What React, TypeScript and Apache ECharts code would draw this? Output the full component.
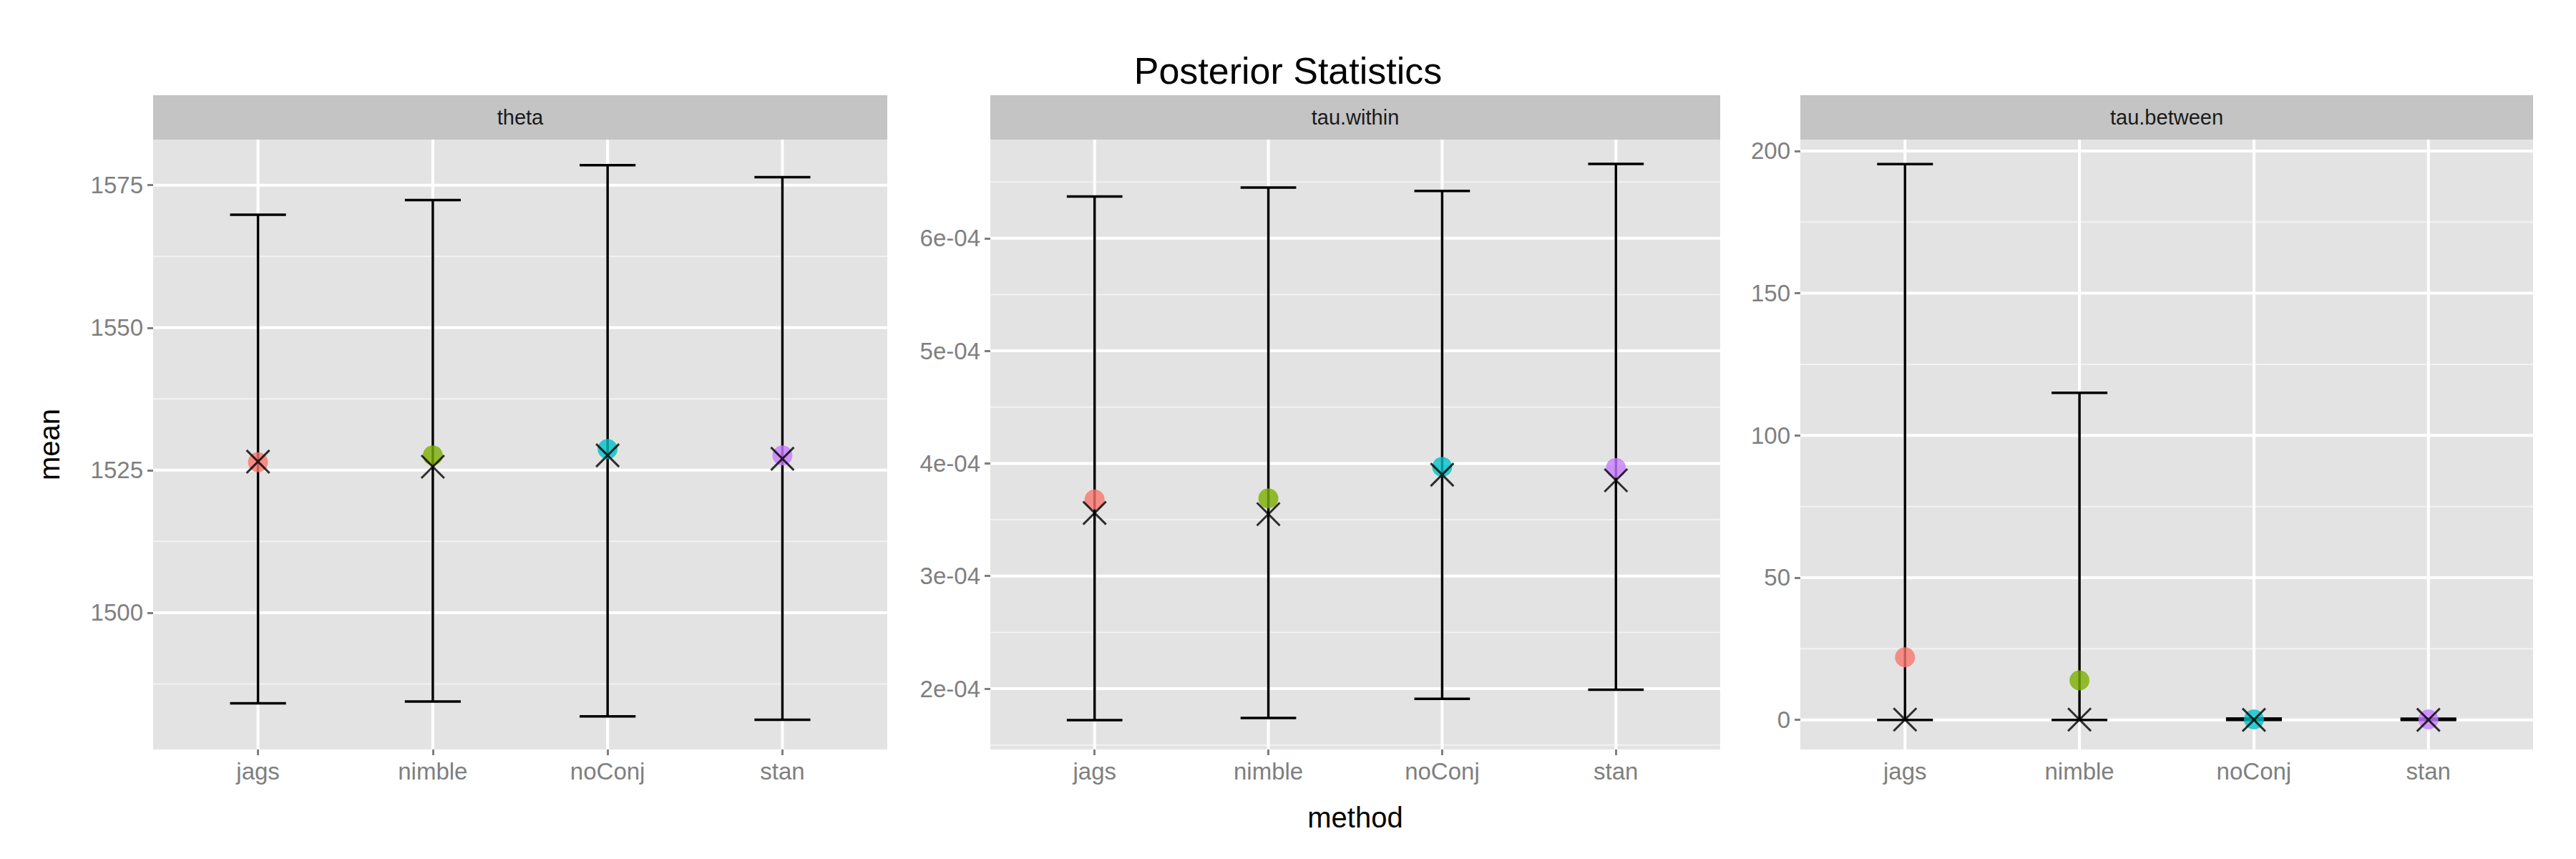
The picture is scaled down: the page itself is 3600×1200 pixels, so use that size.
import React, { useEffect, useRef } from 'react';
import * as echarts from 'echarts';

const methods = ['jags', 'nimble', 'noConj', 'stan'];
const colors = ['#F8766D', '#7CAE00', '#00BFC4', '#C77CFF'];
const panels = ['theta', 'tau.within', 'tau.between'];

// per panel: lower, upper, mean, median for each method
const thetaLower = [1484.1, 1484.4, 1481.8, 1481.2];
const thetaUpper = [1569.8, 1572.4, 1578.5, 1576.4];
const thetaMean = [1526.4, 1527.6, 1528.7, 1527.6];
const thetaMedian = [1526.5, 1525.6, 1527.6, 1527.0];

const withinLower = [1.72e-4, 1.74e-4, 1.91e-4, 1.99e-4];
const withinUpper = [6.37e-4, 6.45e-4, 6.42e-4, 6.66e-4];
const withinMean = [3.68e-4, 3.69e-4, 3.97e-4, 3.96e-4];
const withinMedian = [3.56e-4, 3.55e-4, 3.9e-4, 3.85e-4];

const betweenLower = [0, 0, 0, 0];
const betweenUpper = [195.4, 115, 0.5, 0.4];
const betweenMean = [22, 13.9, 0.2, 0.2];
const betweenMedian = [0.1, 0.1, 0, 0];

const thetaTicks = [1500, 1525, 1550, 1575];
const withinTicks = [2e-4, 3e-4, 4e-4, 5e-4, 6e-4];
const betweenTicks = [0, 50, 100, 150, 200];

const yRanges = [
  [1476, 1583],
  [1.46e-4, 6.876e-4],
  [-10.4, 204],
];

const grids = [
  { left: 214, width: 1026 },
  { left: 1384, width: 1020 },
  { left: 2516, width: 1024 },
];
const gridTop = 195;
const gridHeight = 852;

const App: React.FC = () => {
  const ref = useRef<HTMLDivElement>(null);

  useEffect(() => {
    document.body.style.margin = '0';
    if (!ref.current) return;
    const chart = echarts.init(ref.current, null, { renderer: 'svg' });

    const stats = [
      [thetaLower, thetaUpper, thetaMean, thetaMedian],
      [withinLower, withinUpper, withinMean, withinMedian],
      [betweenLower, betweenUpper, betweenMean, betweenMedian],
    ];
    const ticks = [thetaTicks, withinTicks, betweenTicks];
    const fmt = [
      (v: number) => String(v),
      (v: number) => `${Math.round(v * 1e4)}e-04`,
      (v: number) => String(v),
    ];

    const series: any[] = [];
    panels.forEach((_, p) => {
      const t = ticks[p];
      const minor: number[] = [];
      for (let i = 0; i < t.length - 1; i++) minor.push((t[i] + t[i + 1]) / 2);
      const step = t[1] - t[0];
      minor.unshift(t[0] - step / 2);
      minor.push(t[t.length - 1] + step / 2);
      // background grid lines
      series.push({
        type: 'custom',
        xAxisIndex: p,
        yAxisIndex: p,
        silent: true,
        z: 1,
        data: [0],
        renderItem: (params: any, api: any) => {
          const cs = params.coordSys;
          const children: any[] = [];
          minor.forEach((v) => {
            const y = api.coord([1, v])[1];
            if (y < cs.y || y > cs.y + cs.height) return;
            children.push({ type: 'line', shape: { x1: cs.x, y1: y, x2: cs.x + cs.width, y2: y }, style: { stroke: '#F2F2F2', lineWidth: 2 } });
          });
          t.forEach((v) => {
            const y = api.coord([1, v])[1];
            children.push({ type: 'line', shape: { x1: cs.x, y1: y, x2: cs.x + cs.width, y2: y }, style: { stroke: '#FFFFFF', lineWidth: 4 } });
          });
          methods.forEach((_m, i) => {
            const x = api.coord([i + 1, 0])[0];
            children.push({ type: 'line', shape: { x1: x, y1: cs.y, x2: x, y2: cs.y + cs.height }, style: { stroke: '#FFFFFF', lineWidth: 4 } });
          });
          return { type: 'group', children };
        },
      });
      const [lo, up, mean, med] = stats[p];
      series.push({
        type: 'custom',
        xAxisIndex: p,
        yAxisIndex: p,
        z: 2,
        data: methods.map((_m, i) => [i + 1, lo[i], up[i]]),
        renderItem: (_params: any, api: any) => {
          const x = api.value(0);
          const a = api.coord([x, api.value(1)]);
          const b = api.coord([x, api.value(2)]);
          const w = api.coord([x + 0.16, 0])[0] - a[0];
          const st = { stroke: '#000', lineWidth: 3.5 };
          return {
            type: 'group',
            children: [
              { type: 'line', shape: { x1: a[0], y1: a[1], x2: b[0], y2: b[1] }, style: st },
              { type: 'line', shape: { x1: a[0] - w, y1: a[1], x2: a[0] + w, y2: a[1] }, style: st },
              { type: 'line', shape: { x1: b[0] - w, y1: b[1], x2: b[0] + w, y2: b[1] }, style: st },
            ],
          };
        },
      });
      series.push({
        type: 'scatter',
        xAxisIndex: p,
        yAxisIndex: p,
        z: 3,
        symbolSize: 28,
        data: methods.map((_m, i) => ({ value: [i + 1, mean[i]], itemStyle: { color: colors[i] } })),
      });
      series.push({
        type: 'scatter',
        xAxisIndex: p,
        yAxisIndex: p,
        z: 4,
        symbol: 'path://M0,0L10,10M10,0L0,10',
        symbolSize: 32,
        itemStyle: { color: 'none', borderColor: '#000', borderWidth: 3 },
        data: methods.map((_m, i) => [i + 1, med[i]]),
      });
    });

    const option: any = {
      animation: false,
      backgroundColor: '#fff',
      title: {
        text: 'Posterior Statistics',
        left: 'center',
        top: 68,
        textStyle: { fontFamily: 'Liberation Sans, Arial', fontSize: 52, fontWeight: 'normal', color: '#000' },
      },
      grid: grids.map((g) => ({
        left: g.left,
        width: g.width,
        top: gridTop,
        height: gridHeight,
        show: true,
        backgroundColor: '#E3E3E3',
        borderWidth: 0,
      })),
      xAxis: grids.map((_g, p) => ({
        type: 'value',
        gridIndex: p,
        min: 0.4,
        max: 4.6,
        splitLine: { show: false },
        axisLine: { show: false },
        axisTick: { show: true, customValues: [1, 2, 3, 4], length: 8, lineStyle: { color: '#7F7F7F', width: 3 } },
        axisLabel: {
          customValues: [1, 2, 3, 4],
          formatter: (v: number) => methods[Math.round(v) - 1],
          fontFamily: 'Liberation Sans, Arial',
          fontSize: 33,
          color: '#7F7F7F',
          margin: 14,
        },
        name: p === 1 ? 'method' : '',
        nameLocation: 'middle',
        nameGap: 75,
        nameTextStyle: { fontFamily: 'Liberation Sans, Arial', fontSize: 40, color: '#000' },
      })),
      yAxis: grids.map((_g, p) => ({
        type: 'value',
        gridIndex: p,
        min: yRanges[p][0],
        max: yRanges[p][1],
        splitLine: { show: false },
        axisLine: { show: false },
        axisTick: { show: true, customValues: ticks[p], length: 8, lineStyle: { color: '#7F7F7F', width: 3 } },
        axisLabel: {
          customValues: ticks[p],
          formatter: fmt[p],
          fontFamily: 'Liberation Sans, Arial',
          fontSize: 33,
          color: '#7F7F7F',
          margin: 14,
        },
        name: p === 0 ? 'mean' : '',
        nameLocation: 'middle',
        nameGap: 125,
        nameTextStyle: { fontFamily: 'Liberation Sans, Arial', fontSize: 40, color: '#000' },
      })),
      graphic: grids.flatMap((g, p) => [
        { type: 'rect', shape: { x: g.left, y: 133, width: g.width, height: 62 }, style: { fill: '#C4C4C4' } },
        {
          type: 'text',
          x: g.left + g.width / 2,
          y: 164,
          style: { text: panels[p], fontFamily: 'Liberation Sans, Arial', fontSize: 29, fill: '#1a1a1a', align: 'center', verticalAlign: 'middle' },
        },
      ]),
      series,
    };
    chart.setOption(option);
    return () => chart.dispose();
  }, []);

  return <div ref={ref} style={{ width: 3600, height: 1200 }} />;
};

export default App;
